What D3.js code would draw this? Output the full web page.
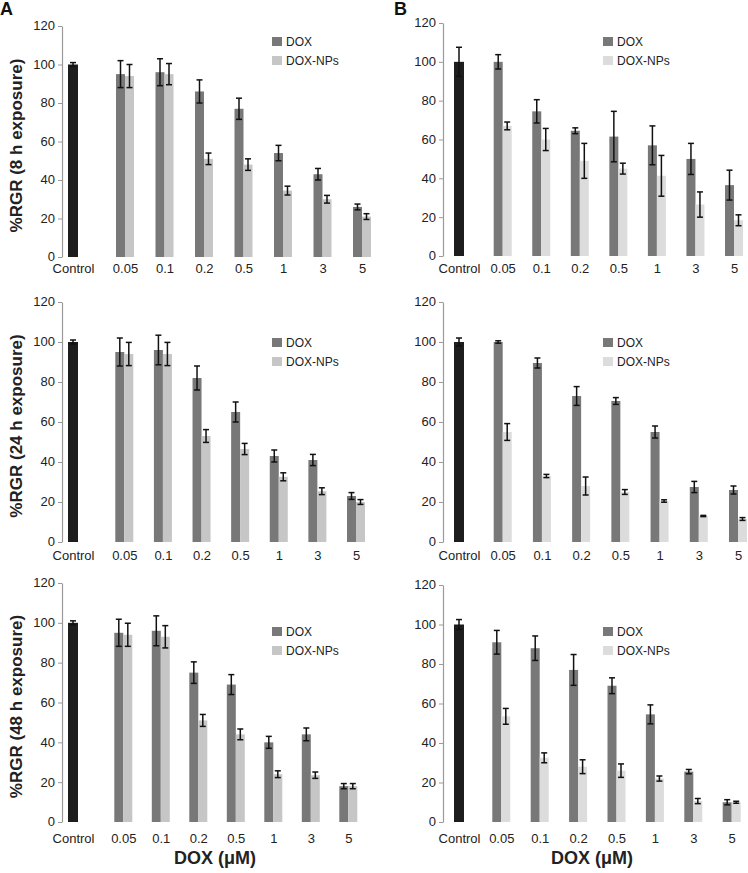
<!DOCTYPE html>
<html>
<head>
<meta charset="utf-8">
<script src="https://cdn.jsdelivr.net/npm/d3@7"></script>
<style>
  html, body { margin: 0; padding: 0; background: #fff; }
  svg { display: block; font-family: "Liberation Sans", Arial, sans-serif; }
</style>
</head>
<body>
<svg id="chart" width="748" height="873"></svg>
<script>
// ---------------- DATA ----------------
const doses = ["0.05", "0.1", "0.2", "0.5", "1", "3", "5"];
const categories = ["Control", ...doses];
const yTicks = [0, 20, 40, 60, 80, 100, 120];
const seriesNames = ["DOX", "DOX-NPs"];
const yTitles = ["%RGR (8 h exposure)", "%RGR (24 h exposure)", "%RGR (48 h exposure)"];
const xTitle = "DOX (μM)";
const panelLetters = ["A", "B"];

// A, 8 h
const a8Control = 100, a8ControlErr = 1;
const a8Dox = [95, 96, 86, 77, 54, 43, 26];
const a8DoxErr = [7, 7, 6, 5.5, 4, 3, 1.5];
const a8Nps = [94, 95, 51, 48, 34.5, 30, 21];
const a8NpsErr = [6, 5.5, 3, 3, 2.3, 2, 1.5];

// B, 8 h
const b8Control = 100, b8ControlErr = 7.5;
const b8Dox = [100, 74.5, 64.5, 61.5, 57, 50, 36.5];
const b8DoxErr = [3.7, 6, 1.5, 13, 10, 8, 7.7];
const b8Nps = [67, 60, 49, 45, 41.3, 26.5, 18.4];
const b8NpsErr = [2, 5.7, 9, 2.8, 10.5, 6.5, 2.8];

// A, 24 h
const a24Control = 100, a24ControlErr = 1;
const a24Dox = [95, 96, 82, 65, 43, 41, 23];
const a24DoxErr = [7, 7.4, 6, 5, 3, 2.8, 1.7];
const a24Nps = [94, 94, 53, 46.5, 32.6, 25.4, 20];
const a24NpsErr = [5.8, 5.8, 3.2, 2.8, 2, 1.7, 1.2];

// B, 24 h
const b24Control = 100, b24ControlErr = 2;
const b24Dox = [100, 89.5, 73, 70.5, 55, 27.5, 26];
const b24DoxErr = [0.6, 2.5, 4.7, 1.7, 3, 2.8, 2];
const b24Nps = [55, 33, 28, 25, 20.5, 13, 11.5];
const b24NpsErr = [4.2, 0.8, 4.5, 1.2, 0.6, 0.3, 0.7];

// A, 48 h
const a48Control = 100, a48ControlErr = 1;
const a48Dox = [95, 96, 75, 69, 40, 44, 18];
const a48DoxErr = [6.8, 7.5, 5.4, 5, 3, 3.2, 1.3];
const a48Nps = [94, 93, 51, 44, 24, 23.5, 18];
const a48NpsErr = [5.8, 5.6, 3, 2.7, 1.7, 1.6, 1.3];

// B, 48 h
const b48Control = 100, b48ControlErr = 2.5;
const b48Dox = [91, 88, 77, 69, 54.5, 25.5, 10];
const b48DoxErr = [6, 6.2, 7.8, 4, 4.8, 1.1, 1.3];
const b48Nps = [53.5, 32.5, 28, 26, 22, 10.6, 10];
const b48NpsErr = [4, 2.5, 3.5, 3.4, 1.3, 1.3, 0.5];

// ---------------- LAYOUT ----------------
const colors = { control: "#1d1d1d", dox: "#787878", npsA: "#c6c6c6", npsB: "#dcdcdc" };

const panels = [
  { col: 0, row: 0, ctrl: a8Control, ctrlErr: a8ControlErr, dox: a8Dox, doxErr: a8DoxErr, nps: a8Nps, npsErr: a8NpsErr,
    axisX: 62, y0: 257, y120: 26, ctrlX: 73, g0: 125, g6: 362, labelY: 273, legX: 272, legY: 37 },
  { col: 1, row: 0, ctrl: b8Control, ctrlErr: b8ControlErr, dox: b8Dox, doxErr: b8DoxErr, nps: b8Nps, npsErr: b8NpsErr,
    axisX: 443, y0: 256, y120: 23, ctrlX: 459, g0: 502.7, g6: 734, labelY: 273, legX: 603, legY: 37 },
  { col: 0, row: 1, ctrl: a24Control, ctrlErr: a24ControlErr, dox: a24Dox, doxErr: a24DoxErr, nps: a24Nps, npsErr: a24NpsErr,
    axisX: 62, y0: 542, y120: 302, ctrlX: 73, g0: 124.3, g6: 356, labelY: 560, legX: 272, legY: 338 },
  { col: 1, row: 1, ctrl: b24Control, ctrlErr: b24ControlErr, dox: b24Dox, doxErr: b24DoxErr, nps: b24Nps, npsErr: b24NpsErr,
    axisX: 443, y0: 542, y120: 302, ctrlX: 459, g0: 502.7, g6: 738, labelY: 560, legX: 603, legY: 338 },
  { col: 0, row: 2, ctrl: a48Control, ctrlErr: a48ControlErr, dox: a48Dox, doxErr: a48DoxErr, nps: a48Nps, npsErr: a48NpsErr,
    axisX: 62, y0: 822, y120: 583, ctrlX: 73, g0: 123.3, g6: 348.3, labelY: 843, legX: 272, legY: 627, titleX: 215 },
  { col: 1, row: 2, ctrl: b48Control, ctrlErr: b48ControlErr, dox: b48Dox, doxErr: b48DoxErr, nps: b48Nps, npsErr: b48NpsErr,
    axisX: 443, y0: 822, y120: 585, ctrlX: 459, g0: 501.3, g6: 731.7, labelY: 843, legX: 603, legY: 627, titleX: 592 }
];

const svg = d3.select("#chart");
const barW = 9, ctrlW = 10, capW = 6;

panels.forEach(p => {
  const g = svg.append("g");
  const y = d3.scaleLinear().domain([0, 120]).range([p.y0, p.y120]);
  const xDose = d3.scalePoint().domain(doses).range([p.g0, p.g6]);
  const xCat = d3.scaleOrdinal().domain(categories).range([p.ctrlX, ...doses.map(d => xDose(d))]);
  const npsColor = p.col === 0 ? colors.npsA : colors.npsB;

  // y axis
  const yAxis = g.append("g").attr("transform", `translate(${p.axisX},0)`)
    .call(d3.axisLeft(y).tickValues(yTicks).tickSize(4).tickSizeOuter(0).tickPadding(3));
  yAxis.select(".domain").attr("stroke", "#9a9a9a").attr("stroke-width", 1.2);
  yAxis.selectAll(".tick line").attr("stroke", "#9a9a9a");
  yAxis.selectAll(".tick text").attr("font-size", 13).attr("fill", "#222")
    .attr("dy", "0.3em")
    .attr("font-family", "Liberation Sans, Arial, sans-serif");

  // x labels (baseline at labelY)
  const xAxis = g.append("g").attr("transform", `translate(0,${p.labelY})`)
    .call(d3.axisBottom(xCat).tickSize(0).tickPadding(0));
  xAxis.select(".domain").remove();
  xAxis.selectAll(".tick text").attr("font-size", 13).attr("fill", "#222")
    .attr("dy", "0").attr("y", 0)
    .attr("font-family", "Liberation Sans, Arial, sans-serif");

  // bars data
  const bars = [];
  bars.push({ x: xCat("Control"), w: ctrlW, v: p.ctrl, e: p.ctrlErr, c: colors.control });
  doses.forEach((d, i) => {
    bars.push({ x: xDose(d) - barW / 2, w: barW, v: p.dox[i], e: p.doxErr[i], c: colors.dox });
    bars.push({ x: xDose(d) + barW / 2, w: barW, v: p.nps[i], e: p.npsErr[i], c: npsColor });
  });

  g.selectAll("rect.bar").data(bars).enter().append("rect")
    .attr("class", "bar")
    .attr("x", d => d.x - d.w / 2).attr("width", d => d.w)
    .attr("y", d => y(d.v)).attr("height", d => y(0) - y(d.v))
    .attr("fill", d => d.c);

  // error bars
  const eg = g.selectAll("g.err").data(bars).enter().append("g").attr("class", "err")
    .attr("stroke", "#111").attr("stroke-width", 1.5);
  eg.append("line").attr("x1", d => d.x).attr("x2", d => d.x)
    .attr("y1", d => y(d.v + d.e)).attr("y2", d => y(d.v - d.e));
  eg.append("line").attr("x1", d => d.x - capW / 2).attr("x2", d => d.x + capW / 2)
    .attr("y1", d => y(d.v + d.e)).attr("y2", d => y(d.v + d.e));
  eg.append("line").attr("x1", d => d.x - capW / 2).attr("x2", d => d.x + capW / 2)
    .attr("y1", d => y(d.v - d.e)).attr("y2", d => y(d.v - d.e));

  // legend
  const leg = g.append("g").attr("transform", `translate(${p.legX},${p.legY})`);
  seriesNames.forEach((name, i) => {
    const row = leg.append("g").attr("transform", `translate(0,${i * 19})`);
    row.append("rect").attr("width", 10).attr("height", 9).attr("fill", i === 0 ? colors.dox : npsColor);
    row.append("text").attr("x", 14).attr("y", 8.5).attr("font-size", 12).attr("fill", "#222").text(name);
  });

  // y title (left column only)
  if (p.col === 0) {
    const cy = (p.y0 + p.y120) / 2 + 4;
    g.append("text").attr("transform", `translate(22,${cy}) rotate(-90)`)
      .attr("text-anchor", "middle").attr("font-size", 17).attr("font-weight", "bold")
      .attr("fill", "#222").text(yTitles[p.row]);
  }
  // x title (bottom row)
  if (p.row === 2) {
    g.append("text").attr("x", p.titleX).attr("y", 864)
      .attr("text-anchor", "middle").attr("font-size", 18).attr("font-weight", "bold")
      .attr("fill", "#222").text(xTitle);
  }
  // panel letters
  if (p.row === 0) {
    g.append("text").attr("x", p.col === 0 ? 0 : 394).attr("y", 15)
      .attr("font-size", 18).attr("font-weight", "bold").attr("fill", "#111")
      .text(panelLetters[p.col]);
  }
});
</script>
</body>
</html>
